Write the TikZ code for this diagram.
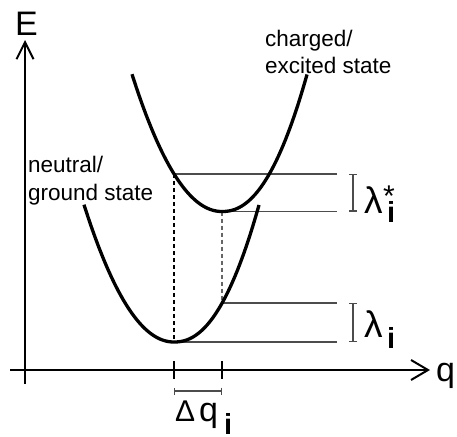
\documentclass[tikz,border=0pt]{standalone}
\usepackage{fontspec}
\setmainfont{Liberation Sans}
\usetikzlibrary{arrows.meta}
\begin{document}
\begin{tikzpicture}[x=1pt,y=-1pt,
 axis/.style={line width=2pt,black},
 curve/.style={line width=3.3pt,black,line join=round},
 level/.style={line width=1.3pt,black!70},
 guide/.style={line width=1.1pt,dash pattern=on 4pt off 3pt},
 brk/.style={line width=1.3pt,black!70,{Bar[width=8pt]}-{Bar[width=8pt]}},
 lbl/.style={anchor=base west,inner sep=0pt,font=\fontsize{22.5}{27}\selectfont},
 big/.style={inner sep=0pt,anchor=base west,font=\fontsize{34}{40}\selectfont},
 lam/.style={inner sep=0pt,anchor=base west,font=\fontsize{37}{42}\selectfont},
 subi/.style={inner sep=0pt,anchor=base west,font=\fontsize{29}{33}\selectfont\bfseries}]
\useasboundingbox (0,0) rectangle (457,436);
% key points
\coordinate (vL) at (174,342);
\coordinate (vU) at (222,211.5);
\coordinate (aU) at (174,174);
\coordinate (bL) at (222,303);
\coordinate (eA) at (337,174);
\coordinate (eB) at (337,211.5);
\coordinate (eC) at (337,303);
\coordinate (eD) at (337,342);
\coordinate (xs) at (10,370);
\coordinate (xe) at (430,370);
\coordinate (ys) at (25,384);
\coordinate (ye) at (25,40);
\coordinate (t1a) at (174,361);
\coordinate (t1b) at (174,379);
\coordinate (t2a) at (222,361);
\coordinate (t2b) at (222,379);
\coordinate (d1) at (174,391);
\coordinate (d2) at (222,391);
\coordinate (b1a) at (353,174);
\coordinate (b1b) at (353,211.5);
\coordinate (b2a) at (353,303);
\coordinate (b2b) at (353,342);
% axes
\draw[axis,-{Straight Barb[length=17pt,width=20pt]}] (xs) -- (xe);
\draw[axis,-{Straight Barb[length=17pt,width=17pt]}] (ys) -- (ye);
% levels
\draw[level] (aU) -- (eA);
\draw[level] (vU) -- (eB);
\draw[level] (bL) -- (eC);
\draw[level] (vL) -- (eD);
% guides
\draw[guide,black] (aU) -- (vL);
\draw[guide,black!60] (vU) -- (bL);
% curves
\draw[curve] plot[domain=90:0.5,samples=40] ({174-\x},{342-1.4856*(\x/10)^2.06})
  -- plot[domain=0.5:85,samples=40] ({174+\x},{342-1.210*(\x/10)^2.21});
\draw[curve] plot[domain=90:0.5,samples=40] ({222-\x},{211.5-1.4856*(\x/10)^2.06})
  -- plot[domain=0.5:85,samples=40] ({222+\x},{211.5-1.210*(\x/10)^2.21});
% ticks
\draw[axis] (t1a) -- (t1b);
\draw[axis] (t2a) -- (t2b);
\draw[line width=1.1pt,black!70,{Bar[width=7pt]}-{Bar[width=7pt]}] (d1) -- (d2);
% brackets
\draw[brk] (b1a) -- (b1b);
\draw[brk] (b2a) -- (b2b);
% labels
\node[lbl] (ch) at (265,47) {charged/};
\node[lbl] (ex) at (265,73) {excited state};
\node[lbl] (ne) at (28,172) {neutral/};
\node[lbl] (gr) at (28,200) {ground state};
\node[big,anchor=base] (E) at (26.5,36) {E};
\node[big] (q) at (436,381) {q};
\node[lam] (lu) at (364,213) {λ};
\node[inner sep=0pt,anchor=base west,font=\fontsize{30}{34}\selectfont] (st) at (383,206.5) {*};
\node[subi] (iu) at (387,222) {i};
\node[lam] (ll) at (364,337) {λ};
\node[subi] (il) at (387,348) {i};
\node[inner sep=0pt,anchor=base west,font=\fontsize{30}{34}\selectfont] (dl) at (175,421.7) {Δ};
\node[big] (dq) at (199,421.7) {q};
\node[subi] (di) at (224,434) {i};
\end{tikzpicture}
\end{document}
